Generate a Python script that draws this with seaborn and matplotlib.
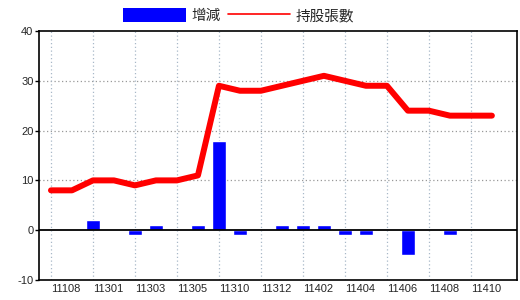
import matplotlib
matplotlib.use("Agg")
import matplotlib.pyplot as plt
import seaborn as sns
import numpy as np
import pandas as pd
from matplotlib.patches import Patch
from matplotlib.lines import Line2D

periods = ["11108", "11112", "11301", "11302", "11303", "11304", "11305", "11309",
           "11310", "11311", "11312", "11401", "11402", "11403", "11404", "11405",
           "11406", "11407", "11408", "11409", "11410", "11411"]
change = [0, 0, 2, 0, -1, 1, 0, 1, 18, -1, 0, 1, 1, 1, -1, -1, 0, -5, 0, -1, 0, 0]
holdings = [8, 8, 10, 10, 9, 10, 10, 11, 29, 28, 28, 29, 30, 31, 30, 29, 29, 24, 24, 23, 23, 23]
tick_labels = ["11108", "11301", "11303", "11305", "11310", "11312", "11402",
               "11404", "11406", "11408", "11410"]
yticks = [-10, 0, 10, 20, 30, 40]

sns.set_style("white")
plt.rcParams['font.family'] = ['Noto Sans CJK TC', 'DejaVu Sans']

df = pd.DataFrame({"period": periods, "change": change, "holdings": holdings,
                   "idx": np.arange(len(periods))})

fig = plt.figure(figsize=(5.2, 3.0), dpi=100)
ax = fig.add_axes([0.075, 0.0667, 0.919, 0.830])

sns.barplot(data=df, x="period", y="change", order=periods, color="#0000FF",
            saturation=1, width=0.67, ax=ax, zorder=3)
sns.lineplot(data=df, x="idx", y="holdings", color="#FF0000", lw=4.3, ax=ax,
             zorder=4, solid_joinstyle="round")

ax.set_xlim(-0.57, 22.19)
ax.set_ylim(-10, 40)
ax.set_xlabel("")
ax.set_ylabel("")

pos = [periods.index(t) for t in tick_labels]
ax.set_xticks(pos)
ax.set_xticklabels(tick_labels, fontfamily="Liberation Sans", fontsize=8, ha="left")
for lab in ax.get_xticklabels():
    lab.set_transform(lab.get_transform() + matplotlib.transforms.ScaledTranslation(2/100, 0, fig.dpi_scale_trans))
ax.tick_params(axis="x", length=0, pad=3)
ax.set_yticks(yticks)
ax.set_yticklabels([str(v) for v in yticks], fontfamily="Liberation Sans", fontsize=8)
ax.tick_params(axis="y", length=3, width=1, color="black", direction="out", pad=1, left=True)

for v in [10, 20, 30]:
    ax.axhline(v, color="#999999", lw=0.9, ls=(0, (1, 2)), zorder=1)
for p in pos:
    ax.axvline(p, color="#a8b8c8", lw=0.9, ls=(0, (1, 2)), zorder=1)
ax.axhline(0, color="black", lw=1.3, zorder=5)

for s in ax.spines.values():
    s.set_visible(True)
    s.set_color("black")
    s.set_linewidth(1.2)

handles = [Patch(facecolor="#0000FF", edgecolor="none"),
           Line2D([0], [0], color="#FF0000", lw=1.2)]
fig.legend(handles, ["增減", "持股張數"], loc="center", bbox_to_anchor=(0.459, 0.947),
           ncol=2, frameon=False, handlelength=4.3, handleheight=1.1,
           handletextpad=0.35, columnspacing=0.5, borderpad=0, borderaxespad=0,
           prop={"family": "Noto Sans CJK TC", "size": 10.5})

fig.savefig("out.png", dpi=100)
